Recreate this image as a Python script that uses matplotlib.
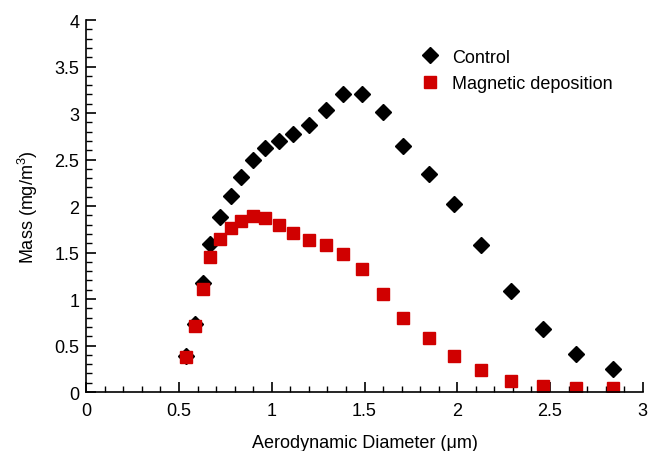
import matplotlib.pyplot as plt
from matplotlib.ticker import MultipleLocator

# Aerodynamic diameter (um) and mass (mg/m3)
diameter = [0.54, 0.585, 0.63, 0.668, 0.72, 0.78, 0.835, 0.90, 0.965, 1.04,
            1.115, 1.20, 1.29, 1.385, 1.486, 1.60, 1.71, 1.845, 1.985, 2.13,
            2.29, 2.46, 2.64, 2.84]
control = [0.39, 0.73, 1.17, 1.59, 1.88, 2.11, 2.31, 2.50, 2.62, 2.70,
           2.77, 2.87, 3.03, 3.20, 3.20, 3.01, 2.65, 2.34, 2.02, 1.58,
           1.09, 0.68, 0.41, 0.25]
magnetic = [0.38, 0.71, 1.11, 1.45, 1.65, 1.76, 1.84, 1.89, 1.87, 1.80,
            1.71, 1.63, 1.58, 1.48, 1.32, 1.05, 0.80, 0.58, 0.39, 0.24,
            0.12, 0.06, 0.04, 0.04]

plt.rcParams['font.family'] = ['Liberation Sans', 'DejaVu Sans']
plt.rcParams['mathtext.fontset'] = 'custom'
plt.rcParams['mathtext.rm'] = 'Liberation Sans'

fig = plt.figure(figsize=(6.48, 4.52), dpi=100)
ax = fig.add_axes([0.133, 0.1305, 0.859, 0.823])

ax.plot(diameter, control, linestyle="none", marker="D", markersize=8,
        color="black", label="Control")
ax.plot(diameter, magnetic, linestyle="none", marker="s", markersize=8.8,
        color="#d00000", label="Magnetic deposition")

ax.set_xlim(0, 3)
ax.set_ylim(0, 4)
ax.xaxis.set_major_locator(MultipleLocator(0.5))
ax.xaxis.set_minor_locator(MultipleLocator(0.1))
ax.yaxis.set_major_locator(MultipleLocator(0.5))
ax.yaxis.set_minor_locator(MultipleLocator(0.1))
ax.xaxis.set_major_formatter(plt.FuncFormatter(lambda v, p: f"{v:g}"))
ax.yaxis.set_major_formatter(plt.FuncFormatter(lambda v, p: f"{v:g}"))
ax.tick_params(which="major", direction="in", length=7, width=1.2,
               labelsize=13, pad=5)
ax.tick_params(axis="x", which="major", pad=7)
ax.tick_params(which="minor", direction="in", length=4, width=1)
ax.spines["top"].set_visible(False)
ax.spines["right"].set_visible(False)
ax.spines["left"].set_linewidth(1.2)
ax.spines["bottom"].set_linewidth(1.2)

ax.set_xlabel("Aerodynamic Diameter (\u03bcm)", fontsize=13, labelpad=11)
ax.set_ylabel("Mass (mg/m$^3$)", fontsize=13, labelpad=10)

ax.legend(loc="upper left", bbox_to_anchor=(0.588, 0.942), frameon=False,
          fontsize=13, handlelength=1.0, handletextpad=0.75,
          labelspacing=0.5, borderaxespad=0)

fig.savefig("out.png", dpi=100)
